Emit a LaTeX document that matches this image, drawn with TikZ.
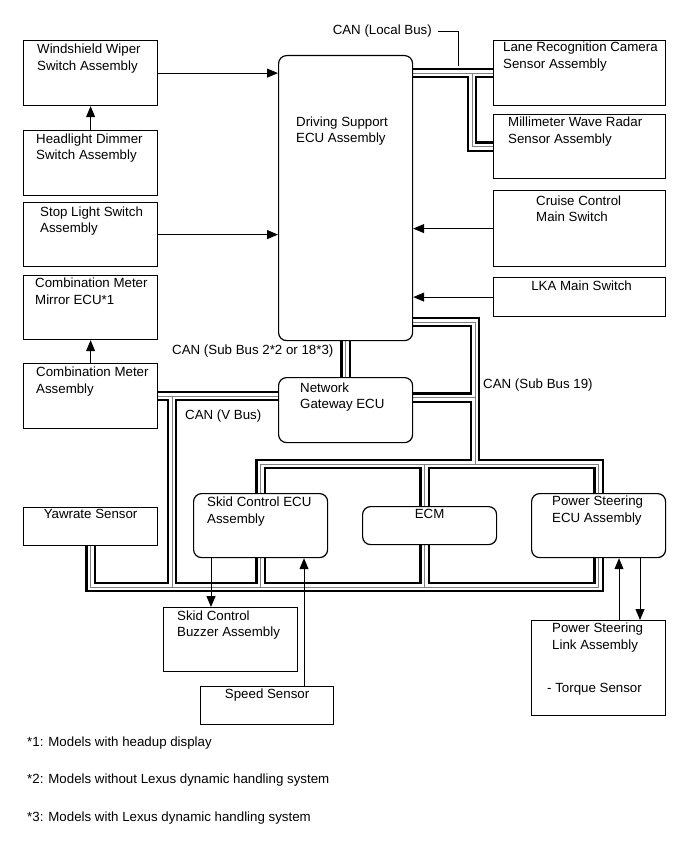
\documentclass[tikz,border=0pt]{standalone}
\usepackage{fontspec}
\setmainfont{Liberation Sans}
\usetikzlibrary{arrows.meta, backgrounds}

\begin{document}
\begin{tikzpicture}[x=1pt, y=-1pt, font=\fontsize{13.3}{16.7}\selectfont,
    unit/.style={draw, rectangle, line width=1.2pt, fill=white, inner sep=0pt, anchor=north west, minimum width=134pt},
    ecu/.style={unit, rounded corners=8pt},
    lbl/.style={anchor=north west, align=left, inner sep=0pt},
    lblc/.style={anchor=north, align=center, inner sep=0pt},
    sig/.style={line width=1pt, -{Triangle[length=11pt, width=9pt]}},
    note/.style={inner sep=0pt}]
    \useasboundingbox (0,0) rectangle (689,853);

    % left column
    \node (wiper) [unit, minimum height=65pt, label={[lbl, xshift=14pt, yshift=-3.7pt]north west:Windshield Wiper\\Switch Assembly}] at (23,40) {};
    \node (headlight) [unit, minimum height=65pt, label={[lbl, xshift=13pt, yshift=-3.4pt]north west:Headlight Dimmer\\Switch Assembly}] at (23,130) {};
    \node (stop) [unit, minimum height=64pt, label={[lbl, xshift=17pt, yshift=-4.4pt]north west:Stop Light Switch\\Assembly}] at (23,202) {};
    \node (mirror) [unit, minimum height=64pt, label={[lbl, xshift=12pt, yshift=-2.8pt]north west:Combination Meter\\Mirror ECU*1}] at (23,275) {};
    \node (meter) [unit, minimum height=65pt, label={[lbl, xshift=13pt, yshift=-4.1pt]north west:Combination Meter\\Assembly}] at (23,363) {};
    \node (yawrate) [unit, minimum height=38pt, label={[lblc, yshift=-2.4pt]north:Yawrate Sensor}] at (23,507) {};

    % middle
    \node (ds) [ecu, minimum height=285pt, label={[lbl, xshift=18pt, yshift=-61.4pt]north west:Driving Support\\ECU Assembly}] at (278,55) {};
    \node (gw) [ecu, minimum height=65pt, label={[lbl, xshift=22pt, yshift=-5.4pt]north west:Network\\Gateway ECU}] at (278,377) {};

    % right column
    \node (lane) [unit, minimum width=172pt, minimum height=65pt, label={[lbl, xshift=10pt, yshift=-1.5pt]north west:Lane Recognition Camera\\Sensor Assembly}] at (493,40) {};
    \node (radar) [unit, minimum width=172pt, minimum height=64pt, label={[lbl, xshift=15pt, yshift=-3.1pt]north west:Millimeter Wave Radar\\Sensor Assembly}] at (493,114) {};
    \node (cruise) [unit, minimum width=172pt, minimum height=76pt, label={[lbl, xshift=43pt, yshift=-5.4pt]north west:Cruise Control\\Main Switch}] at (493,190) {};
    \node (lka) [unit, minimum width=172pt, minimum height=39pt, label={[lblc, xshift=2pt, yshift=-3.4pt]north:LKA Main Switch}] at (493,277) {};

    % bottom row
    \node (skid) [ecu, minimum height=64pt, label={[lbl, xshift=14pt, yshift=-3.8pt]north west:Skid Control ECU\\Assembly}] at (193,493) {};
    \node (ecm) [ecu, minimum height=38pt, label={[lblc, yshift=-2.7pt]north:ECM}] at (362,506) {};
    \node (psecu) [ecu, minimum height=64pt, label={[lbl, xshift=21pt, yshift=-3.1pt]north west:Power Steering\\ECU Assembly}] at (531,493) {};
    \node (buzzer) [unit, minimum height=64pt, label={[lbl, xshift=14pt, yshift=-3.4pt]north west:Skid Control\\Buzzer Assembly}] at (163,607) {};
    \node (speed) [unit, minimum width=133pt, minimum height=38pt, label={[lblc, yshift=-2.7pt]north:Speed Sensor}] at (200,686) {};
    \node (pslink) [unit, minimum height=95pt, label={[lbl, xshift=21pt, yshift=-2.7pt]north west:Power Steering\\Link Assembly}, label={[lbl, xshift=16pt, yshift=-63.4pt]north west:- Torque Sensor}] at (531,620) {};

    % bus labels
    \node (buslocal) [note, anchor=base east] at (432,35) {CAN (Local Bus)};
    \node (bussub) [note, anchor=base west] at (172,354) {CAN (Sub Bus 2*2 or 18*3)};
    \node (busv) [note, anchor=base west] at (185,419) {CAN (V Bus)};
    \node (bus19) [note, anchor=base west] at (483,388) {CAN (Sub Bus 19)};

    \coordinate (localdrop) at (472,0);
    \coordinate (localtap) at (458,66);
    \coordinate (sbdrop) at (475,322);
    \coordinate (toptrunk) at (0,464);
    \coordinate (bottrunk) at (0,587);
    \coordinate (vdrop) at (172,0);

    \begin{pgfonlayer}{background}
    \foreach \w/\c in {10.5pt/black, 6pt/white, 0.6pt/gray} {
        \draw [line width=\w, draw=\c]
            (ds.east |- lane.west) -- (lane.west)
            (localdrop |- lane.west) |- (radar.west)
            (ds.south) -- (gw.north)
            (ds.east |- sbdrop) -- (sbdrop) -- (sbdrop |- toptrunk)
            ([yshift=12.5pt]gw.east) -- ([yshift=12.5pt]gw.east -| sbdrop)
            (skid.north) -- (skid.north |- toptrunk) -| (psecu.north)
            ([xshift=-5pt]ecm.north) -- ([xshift=-5pt]ecm.north |- toptrunk)
            (meter.east) -- (meter.east -| gw.west)
            (vdrop |- meter.east) -- (vdrop |- bottrunk)
            (yawrate.south) -- (yawrate.south |- bottrunk) -| (psecu.south)
            (skid.south) -- (skid.south |- bottrunk)
            ([xshift=-5pt]ecm.south) -- ([xshift=-5pt]ecm.south |- bottrunk);
    }
    \end{pgfonlayer}

    \draw [line width=1pt] ([xshift=6pt, yshift=3pt]buslocal.base east) -| (localtap);

    \draw [sig] (wiper.east) -- (wiper.east -| ds.west);
    \draw [sig] (headlight.north) -- (wiper.south);
    \draw [sig] (stop.east) -- (stop.east -| ds.west);
    \draw [sig] (meter.north) -- (mirror.south);
    \draw [sig] (cruise.west) -- (cruise.west -| ds.east);
    \draw [sig] (lka.west) -- (lka.west -| ds.east);
    \draw [sig] ([xshift=18pt]skid.south west) coordinate (buzzin) -- (buzzin |- buzzer.north);
    \draw [sig] ([xshift=104pt]speed.north west) coordinate (speedout) -- (speedout |- skid.south);
    \draw [sig] ([xshift=88pt]pslink.north west) coordinate (linkout) -- (linkout |- psecu.south);
    \draw [sig] ([xshift=109pt]psecu.south west) coordinate (linkin) -- (linkin |- pslink.north);

    % notes
    \node (note1) [note, anchor=base west] at (27,746) {*1: Models with headup display};
    \node (note2) [note, anchor=base west] at (27,783) {*2: Models without Lexus dynamic handling system};
    \node (note3) [note, anchor=base west] at (27,821) {*3: Models with Lexus dynamic handling system};
\end{tikzpicture}
\end{document}
